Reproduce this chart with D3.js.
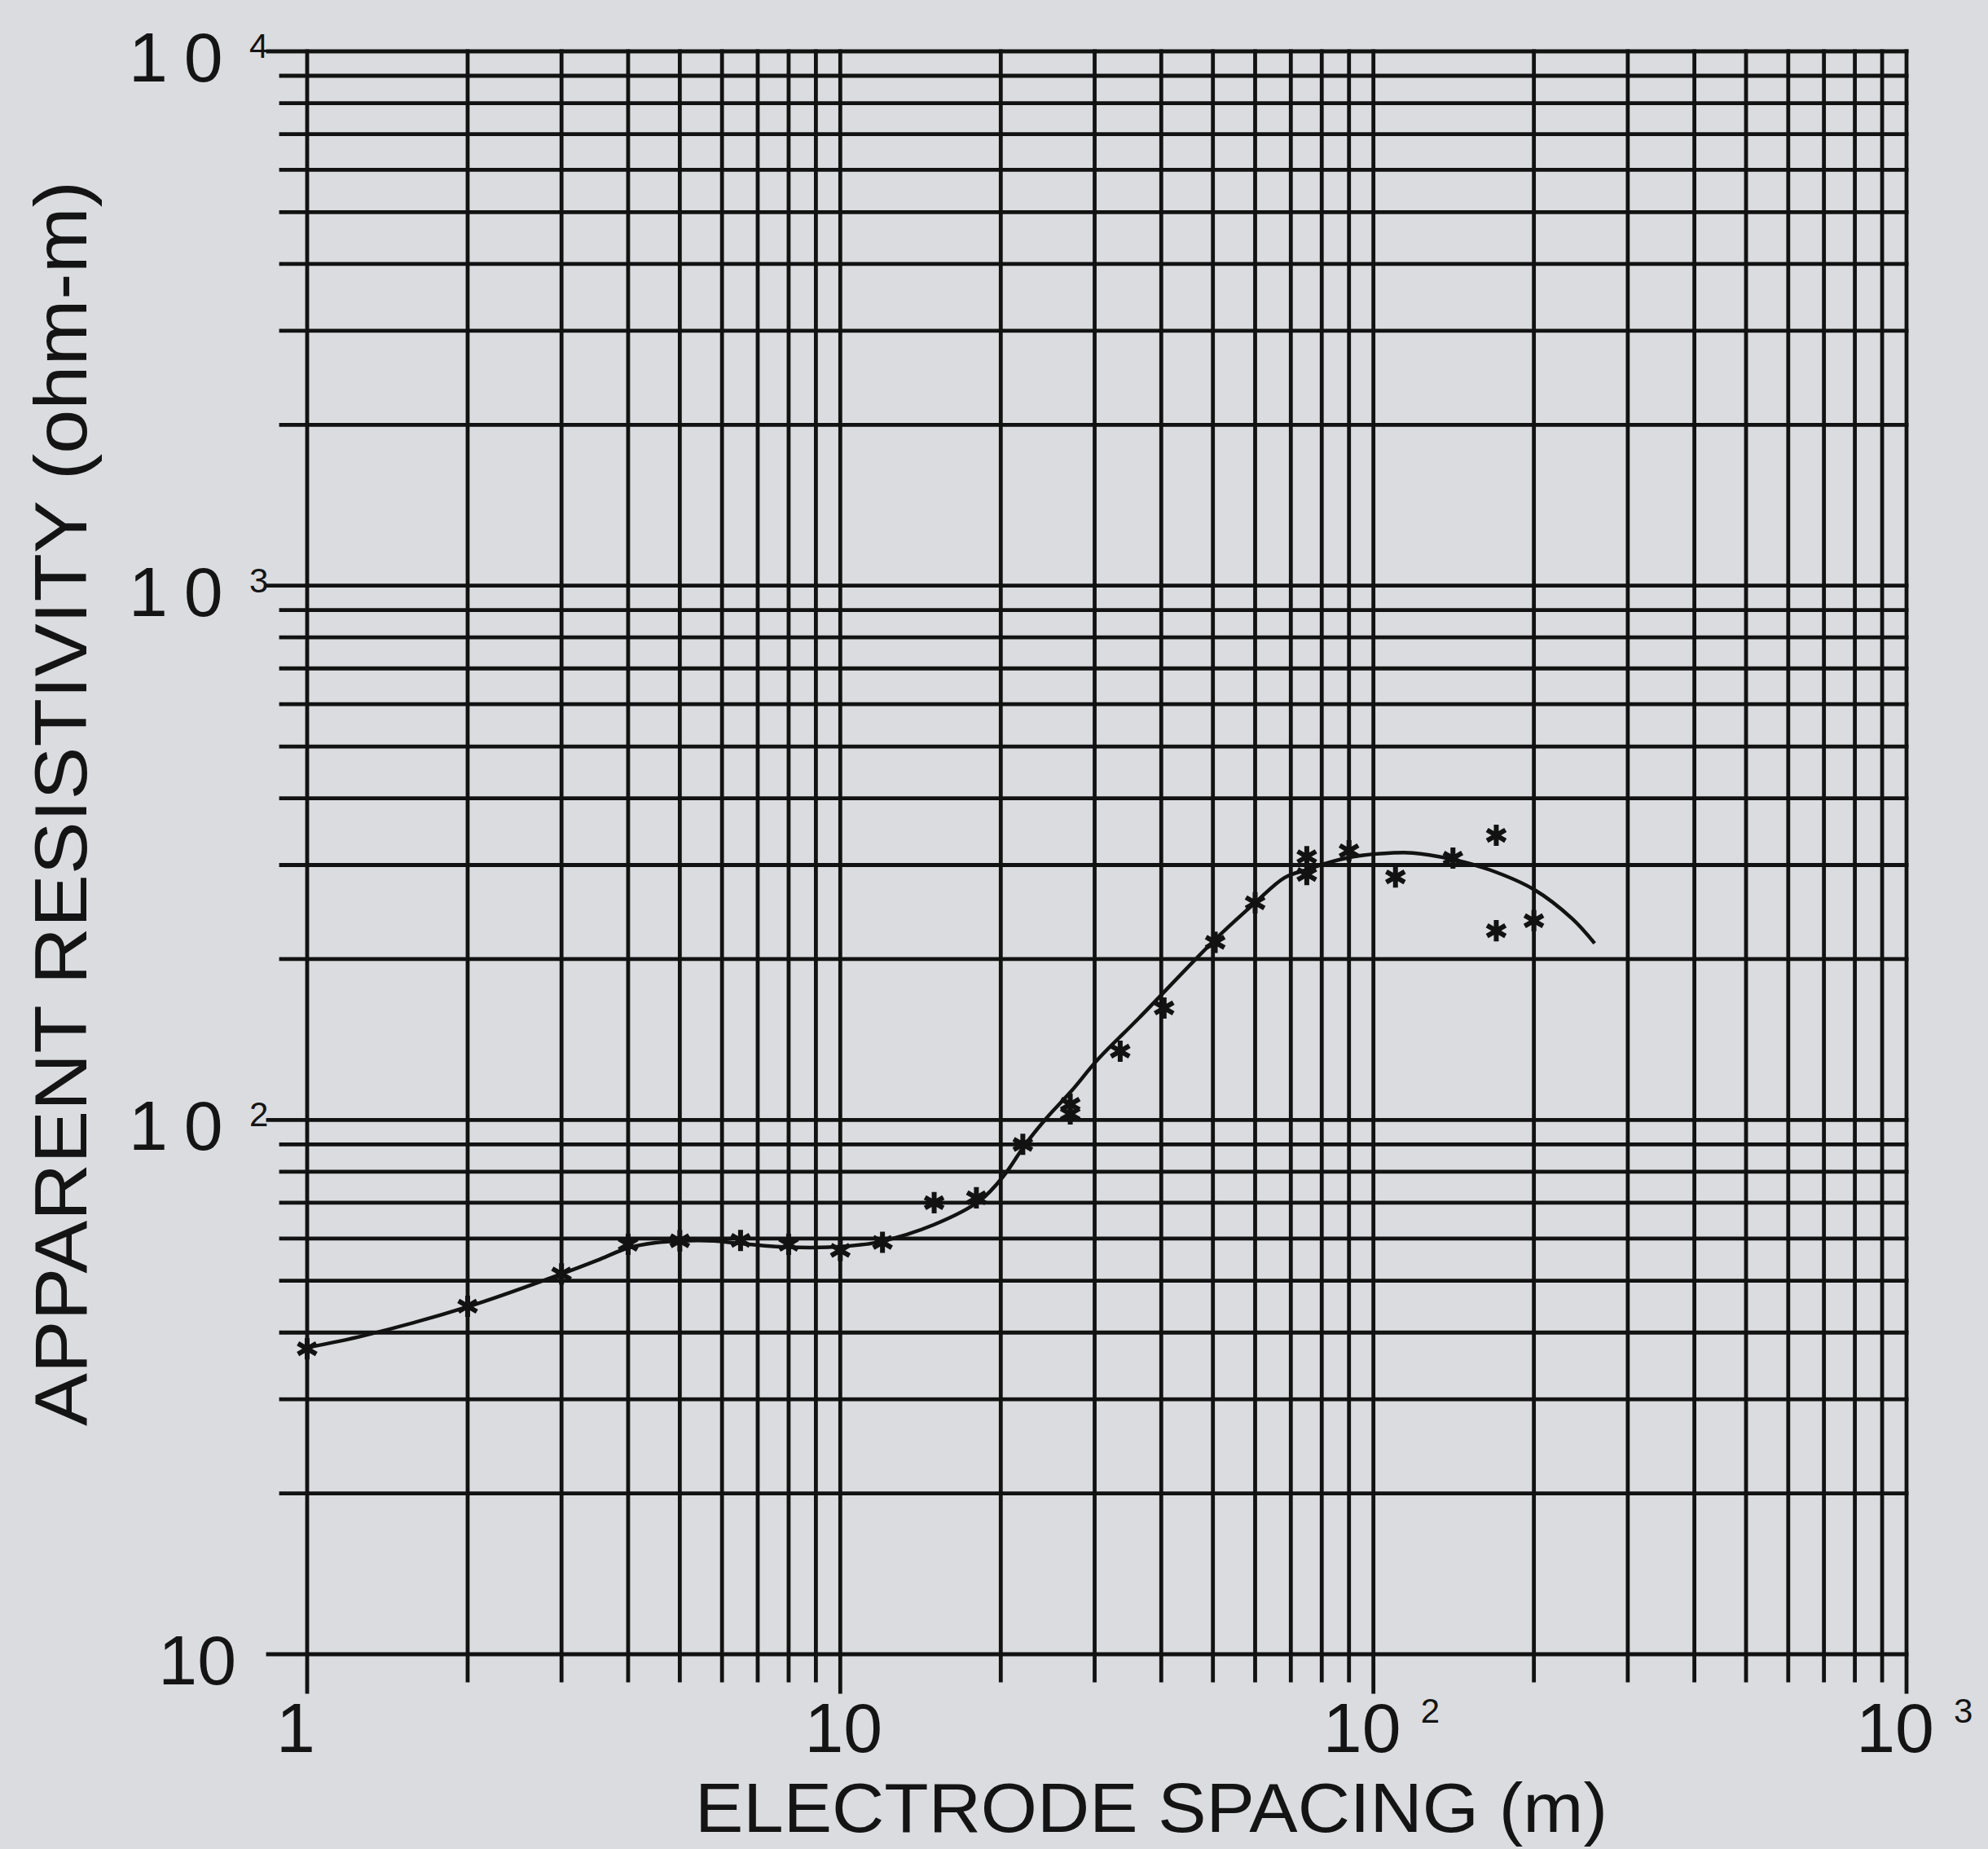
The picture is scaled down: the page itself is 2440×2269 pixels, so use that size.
<!DOCTYPE html>
<html>
<head>
<meta charset="utf-8">
<script src="https://cdn.jsdelivr.net/npm/d3@7/dist/d3.min.js"></script>
<style>
  html, body { margin: 0; padding: 0; background: #dbdcdf; }
  svg { display: block; }
  text { font-family: "Liberation Sans", Arial, sans-serif; fill: #141414; }
</style>
</head>
<body>
<svg id="chart" width="2440" height="2269"></svg>
<script>
// Vertical electrical sounding: measured apparent resistivity and fitted model curve
const spacingMeasured = [1, 2, 3, 4, 5, 6.5, 8, 10, 12, 15, 18, 22, 27, 27, 33.5, 40.5, 50.5, 60, 75, 75, 90, 110, 141, 170, 170, 200];
const rhoMeasured     = [37.3, 44.8, 51.5, 58.5, 59.4, 59.5, 58.5, 57, 59, 70, 71.5, 90, 107, 102.6, 134.5, 162, 215, 255, 311, 288, 319, 285, 309, 341, 226, 236];

const spacingModel = [1, 1.28, 2, 3, 3.5, 4, 4.5, 5, 5.8, 6.4, 8, 9.9, 11.7, 15, 18.3, 20.3, 22.2, 24.3, 27.2, 30.4, 36.3, 50.8, 60, 68.1, 75, 81.3, 90, 103, 118.6, 141.5, 165, 200, 236, 260];
const rhoModel     = [37.5, 39.5, 44.7, 51.5, 54.6, 57.6, 58.9, 59.4, 59.4, 58.8, 57.8, 57.9, 59, 63.7, 70.7, 78.8, 89.8, 100.5, 113.6, 129.7, 155, 219, 255, 284, 294, 302, 310, 315, 316, 307, 294, 270, 238, 214];

// Decade tick labels: base text and exponent
const xTickValues = [1, 10, 100, 1000];
const xTickBase   = ["1", "10", "10", "10"];
const xTickExp    = ["", "", "2", "3"];
const yTickValues = [10, 100, 1000, 10000];
const yTickBase   = ["10", "10", "10", "10"];
const yTickExp    = ["", "2", "3", "4"];

const xTitle = "ELECTRODE SPACING (m)";
const yTitle = "APPARENT RESISTIVITY (ohm-m)";

const L = 377, R = 2340, T = 63, B = 2030;
const ink = "#121212";
const svg = d3.select("#chart");

const x = d3.scaleLog().domain([1, 1000]).range([L, R]);
const y = d3.scaleLog().domain([10, 10000]).range([B, T]);

const isDecade = v => Math.abs(Math.log10(v) - Math.round(Math.log10(v))) < 1e-9;

// Grid: every log tick drawn as a full line, extended past the axis as a tick mark
const grid = svg.append("g").attr("stroke", ink).attr("stroke-width", 4.8).attr("stroke-linecap", "square");
grid.selectAll("line.vx").data(x.ticks()).join("line")
  .attr("class", "vx")
  .attr("x1", d => x(d)).attr("x2", d => x(d))
  .attr("y1", T).attr("y2", d => B + (isDecade(d) ? 46 : 32));
grid.selectAll("line.hy").data(y.ticks()).join("line")
  .attr("class", "hy")
  .attr("y1", d => y(d)).attr("y2", d => y(d))
  .attr("x1", d => L - (isDecade(d) ? 48 : 32)).attr("x2", R);

// X tick labels
const xl = svg.append("g");
xTickValues.forEach((v, i) => {
  const hasExp = xTickExp[i] !== "";
  const cx = x(v) + (hasExp ? -14 : (xTickBase[i] === "1" ? -14 : 4));
  xl.append("text").attr("x", cx).attr("y", 2150).attr("text-anchor", "middle")
    .attr("font-size", 86).text(xTickBase[i]);
  if (hasExp) {
    xl.append("text").attr("x", x(v) + 58).attr("y", 2114)
      .attr("font-size", 42).text(xTickExp[i]);
  }
});

// Y tick labels (powers of ten are set with a wider "1 0")
const yl = svg.append("g");
yTickValues.forEach((v, i) => {
  const yy = y(v);
  if (yTickExp[i] === "") {
    yl.append("text").attr("x", 290).attr("y", yy + 37).attr("text-anchor", "end")
      .attr("font-size", 86).text(yTickBase[i]);
  } else {
    const t = yl.append("text").attr("x", 158).attr("y", yy + 37).attr("font-size", 86);
    t.append("tspan").text(yTickBase[i][0]);
    t.append("tspan").attr("dx", 20).text(yTickBase[i].slice(1));
    yl.append("text").attr("x", 306).attr("y", yy + 8)
      .attr("font-size", 42).text(yTickExp[i]);
  }
});

// Axis titles
svg.append("text").attr("x", 1413).attr("y", 2248).attr("text-anchor", "middle")
  .attr("font-size", 86).attr("textLength", 1120).attr("lengthAdjust", "spacingAndGlyphs")
  .text(xTitle);
svg.append("text").attr("transform", "translate(106,986) rotate(-90)")
  .attr("text-anchor", "middle").attr("font-size", 90)
  .attr("textLength", 1528).attr("lengthAdjust", "spacingAndGlyphs")
  .text(yTitle);

// Model curve
const modelPts = spacingModel.map((s, i) => [x(s), y(rhoModel[i])]);
svg.append("path")
  .attr("d", d3.line().curve(d3.curveCatmullRom.alpha(0.5))(modelPts))
  .attr("fill", "none").attr("stroke", ink).attr("stroke-width", 4.5);

// Measured points as six-armed asterisks
const star = d3.symbol().type(d3.symbolAsterisk).size(480);
svg.append("g").selectAll("path").data(spacingMeasured).join("path")
  .attr("transform", (d, i) => `translate(${x(d)},${y(rhoMeasured[i])})`)
  .attr("d", star)
  .attr("fill", "none").attr("stroke", ink).attr("stroke-width", 6);
</script>
</body>
</html>
